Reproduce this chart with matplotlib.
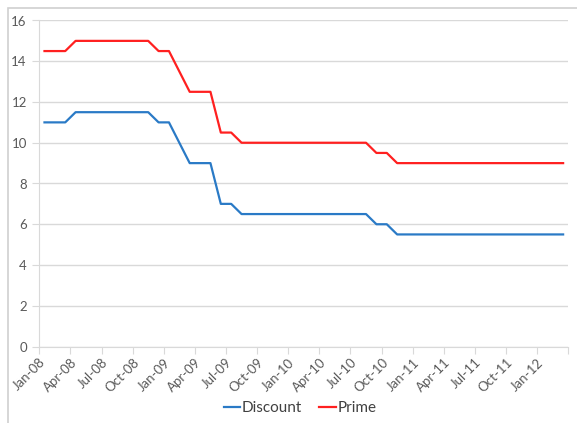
import matplotlib
matplotlib.use("Agg")
import matplotlib.pyplot as plt
from matplotlib.patches import Rectangle
from matplotlib.lines import Line2D

# monthly rates, Jan-08 .. Mar-12
months = ["Jan-08", "Feb-08", "Mar-08", "Apr-08", "May-08", "Jun-08", "Jul-08", "Aug-08",
          "Sep-08", "Oct-08", "Nov-08", "Dec-08", "Jan-09", "Feb-09", "Mar-09", "Apr-09",
          "May-09", "Jun-09", "Jul-09", "Aug-09", "Sep-09", "Oct-09", "Nov-09", "Dec-09",
          "Jan-10", "Feb-10", "Mar-10", "Apr-10", "May-10", "Jun-10", "Jul-10", "Aug-10",
          "Sep-10", "Oct-10", "Nov-10", "Dec-10", "Jan-11", "Feb-11", "Mar-11", "Apr-11",
          "May-11", "Jun-11", "Jul-11", "Aug-11", "Sep-11", "Oct-11", "Nov-11", "Dec-11",
          "Jan-12", "Feb-12", "Mar-12"]
prime = [14.5, 14.5, 14.5, 15, 15, 15, 15, 15, 15, 15, 15, 14.5, 14.5, 13.5, 12.5, 12.5,
         12.5, 10.5, 10.5, 10, 10, 10, 10, 10, 10, 10, 10, 10, 10, 10, 10, 10,
         9.5, 9.5, 9, 9, 9, 9, 9, 9, 9, 9, 9, 9, 9, 9, 9, 9,
         9, 9, 9]
discount = [11, 11, 11, 11.5, 11.5, 11.5, 11.5, 11.5, 11.5, 11.5, 11.5, 11, 11, 10, 9, 9,
            9, 7, 7, 6.5, 6.5, 6.5, 6.5, 6.5, 6.5, 6.5, 6.5, 6.5, 6.5, 6.5, 6.5, 6.5,
            6, 6, 5.5, 5.5, 5.5, 5.5, 5.5, 5.5, 5.5, 5.5, 5.5, 5.5, 5.5, 5.5, 5.5, 5.5,
            5.5, 5.5, 5.5]
tick_labels = months[::3]

plt.rcParams["font.family"] = ["Lato", "DejaVu Sans"]
grey_txt = "#595959"
grid_c = "#d9d9d9"

fig = plt.figure(figsize=(5.77, 4.23), dpi=100)
# chart area frame (cropped on the right and bottom)
fig.patches.append(Rectangle((8 / 577, -0.1), 1.2, 1 - 8 / 423 + 0.1,
                             transform=fig.transFigure, fill=False,
                             edgecolor="#d0d0d0", lw=1.2))

ax = fig.add_axes([39.3 / 577, 1 - 346.5 / 423, (568.3 - 39.3) / 577, (346.5 - 20.5) / 423])
x = [i + 0.5 for i in range(len(months))]
ax.plot(x, discount, color="#2a7ac6", lw=1.6, label="Discount")
ax.plot(x, prime, color="#ff2020", lw=1.6, label="Prime")

n = len(months)
ax.set_xlim(0, n)
ax.set_ylim(0, 16)
ax.set_yticks(range(0, 17, 2))
ax.set_xticks(list(range(0, n, 3)) + [n])
ax.set_xticklabels(tick_labels + [""])
ax.grid(axis="y", color=grid_c, lw=1)
ax.set_axisbelow(True)
for s in ["top", "right"]:
    ax.spines[s].set_visible(False)
ax.spines["left"].set_color(grid_c)
ax.spines["bottom"].set_color(grid_c)
ax.tick_params(axis="y", length=5, color=grid_c, labelcolor=grey_txt, labelsize=9.5, pad=4)
ax.tick_params(axis="x", length=5, color=grid_c, labelcolor=grey_txt, labelsize=9.5, pad=2)
for lab in ax.get_xticklabels():
    lab.set_rotation(45)
    lab.set_ha("right")
    lab.set_rotation_mode("anchor")

handles = [Line2D([], [], color="#2a7ac6", lw=1.6), Line2D([], [], color="#ff2020", lw=1.6)]
fig.legend(handles, ["Discount", "Prime"], loc="center", bbox_to_anchor=(300 / 577, 1 - 408 / 423),
           ncol=2, frameon=False, fontsize=11, handlelength=1.1, handletextpad=0.1,
           columnspacing=1.1, labelcolor="#404040")

fig.savefig("out.png", dpi=100)
